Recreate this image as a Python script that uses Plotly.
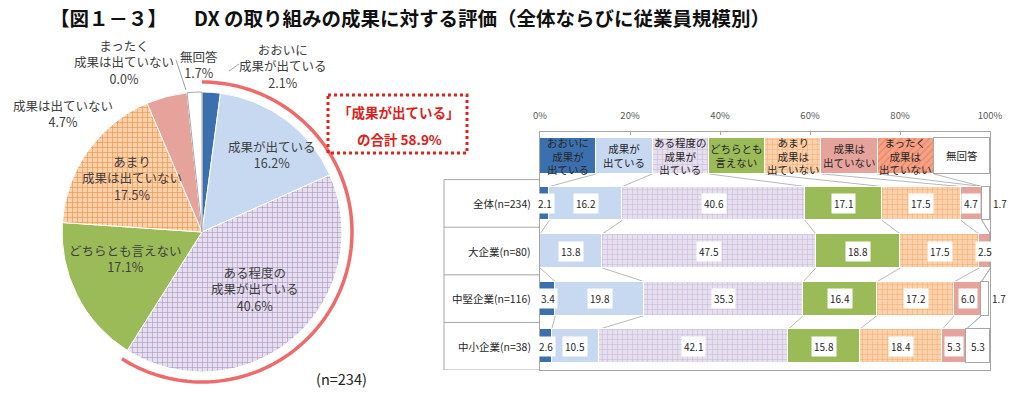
import numpy as np
import plotly.graph_objects as go

W, H = 1024, 393

# ---------------- data ----------------
categories = ["おおいに成果が出ている", "成果が出ている", "ある程度の成果が出ている", "どちらとも言えない",
              "あまり成果は出ていない", "成果は出ていない", "まったく成果は出ていない", "無回答"]
legend_labels = ["おおいに<br>成果が<br>出ている", "成果が<br>出ている", "ある程度の<br>成果が<br>出ている",
                 "どちらとも<br>言えない", "あまり<br>成果は<br>出ていない", "成果は<br>出ていない",
                 "まったく<br>成果は<br>出ていない", "無回答"]
pie_labels = ["おおいに<br>成果が出ている", "成果が出ている", "ある程度の<br>成果が出ている", "どちらとも言えない",
              "あまり<br>成果は出ていない", "成果は出ていない", "まったく<br>成果は出ていない", "無回答"]
pie_values = [2.1, 16.2, 40.6, 17.1, 17.5, 4.7, 0.0, 1.7]

groups = ["全体(n=234)", "大企業(n=80)", "中堅企業(n=116)", "中小企業(n=38)"]
v_zentai = [2.1, 16.2, 40.6, 17.1, 17.5, 4.7, 0.0, 1.7]
v_dai = [0.0, 13.8, 47.5, 18.8, 17.5, 2.5, 0.0, 0.0]
v_chuken = [3.4, 19.8, 35.3, 16.4, 17.2, 6.0, 0.0, 1.7]
v_chusho = [2.6, 10.5, 42.1, 15.8, 18.4, 5.3, 0.0, 5.3]
x_ticks = [0, 20, 40, 60, 80, 100]

title_a = "【図１－３】"
title_b = "DX の取り組みの成果に対する評価（全体ならびに従業員規模別）"
total_label = "「成果が出ている」"
total_prefix = "の合計 "
n_note = "(n=234)"

# ---------------- styles ----------------
FONT = "Noto Sans CJK JP, Noto Sans, sans-serif"
colors = ["#3C6FAE", "#C6D9F1", "#E6E0EE", "#9BBB59", "#FCD2AC", "#E6A39C", "#F4A286", "#FFFFFF"]
pat_shape = ["", "", "+", "", "+", "", "/", ""]
pat_fg = ["#3C6FAE", "#C6D9F1", "#A893C6", "#9BBB59", "#F08A3C", "#E6A39C", "#E5603C", "#FFFFFF"]
edge = ["white"] * 7 + ["#A6A6A6"]
TXT = "#333333"
GRAY = "#A6A6A6"

# plot-area geometry (pixels)
X0, X1 = 540, 990
Y_TOP, Y_BOT = 132, 370


def px(x):
    return x / W


def py(y):
    return 1 - y / H


def xdata_to_px(v):
    return X0 + v / 100 * (X1 - X0)


fig = go.Figure()

# ---------------- pie ----------------
cx, cy, r = 202, 232, 140
fig.add_trace(go.Pie(
    values=pie_values, labels=categories, sort=False, direction="clockwise", rotation=0,
    textinfo="none", textposition="none", hoverinfo="label+value", showlegend=False,
    marker=dict(colors=colors, line=dict(color=edge, width=1),
                pattern=dict(shape=pat_shape, fgcolor=pat_fg, bgcolor=colors, size=5, solidity=0.22)),
    domain=dict(x=[px(cx - r), px(cx + r)], y=[py(cy + r), py(cy - r)]),
))

# ---------------- stacked bars ----------------
rows = [v_zentai, v_dai, v_chuken, v_chusho]
row_y = [3, 2, 1, 0]
LEG_Y = 4
LEG_W, BAR_W = 0.76, 0.71
legend_vals = [100 / len(categories)] * len(categories)

for i, cat in enumerate(categories):
    xs = [legend_vals[i]] + [rw[i] for rw in rows]
    fig.add_trace(go.Bar(
        x=xs, y=[LEG_Y] + row_y, orientation="h", name=cat, showlegend=False,
        width=[LEG_W] + [BAR_W] * len(rows),
        marker=dict(color=colors[i], line=dict(color=edge[i], width=1.2),
                    pattern=dict(shape=pat_shape[i], fgcolor=pat_fg[i], bgcolor=colors[i],
                                 size=5, solidity=0.22)),
        xaxis="x", yaxis="y", hoverinfo="x+name",
    ))

annotations = []
shapes = []


def ann(**kw):
    base = dict(showarrow=False, xanchor="center", yanchor="middle")
    base.update(kw)
    annotations.append(base)


# title
ann(text="<b>" + title_a + "</b>", x=px(48), y=py(17), xref="paper", yref="paper", xanchor="left",
    font=dict(size=19.5, color="#111111", family=FONT))
ann(text="<b>" + title_b + "</b>", x=px(192), y=py(17), xref="paper", yref="paper", xanchor="left",
    font=dict(size=19.5, color="#111111", family=FONT))

# pie labels
pie_pos = [(283, 66), (272, 154), (255, 289), (125, 258), (132, 178), (63, 113), (124, 62), (199, 64)]
for lab, v, (lx, ly) in zip(pie_labels, pie_values, pie_pos):
    ann(text=f"{lab}<br>{v:.1f}%", x=px(lx), y=py(ly), xref="paper", yref="paper", align="center",
        font=dict(size=12.5, color="#404040", family=FONT))

# leader lines
for (x0, y0, x1, y1) in [(239, 64, 229, 71), (176, 60, 186, 90)]:
    shapes.append(dict(type="line", xref="paper", yref="paper", x0=px(x0), y0=py(y0), x1=px(x1), y1=py(y1),
                       line=dict(color="#A0A0A0", width=1)))

# red arc over the "成果が出ている" total
total = sum(pie_values[:3])
frac = total / sum(pie_values)
R = 150
th = np.linspace(0, frac * 2 * np.pi, 120)
pts = [(px(cx + R * np.sin(t)), py(cy - R * np.cos(t))) for t in th]
path = "M " + " L ".join(f"{a:.5f},{b:.5f}" for a, b in pts)
shapes.append(dict(type="path", xref="paper", yref="paper", path=path,
                   line=dict(color="#EF6B6B", width=3.5)))

# dotted red box
shapes.append(dict(type="rect", xref="paper", yref="paper", x0=px(328), x1=px(467), y0=py(95), y1=py(153),
                   line=dict(color="#E3231B", width=3, dash="dot"), fillcolor="rgba(0,0,0,0)"))
ann(text="<b>" + total_label + "</b>", x=px(399), y=py(112), xref="paper", yref="paper",
    font=dict(size=13.5, color="#E0201B", family=FONT))
ann(text=f"<b>{total_prefix}{total:.1f}%</b>", x=px(399), y=py(139), xref="paper", yref="paper",
    font=dict(size=13.5, color="#E0201B", family=FONT))

ann(text=n_note, x=px(341), y=py(378), xref="paper", yref="paper",
    font=dict(size=14.5, color="#222222", family=FONT))

# legend-row texts
for i, lab in enumerate(legend_labels):
    xc = sum(legend_vals[:i]) + legend_vals[i] / 2
    ann(text=lab, x=xc, y=LEG_Y, xref="x", yref="y", align="center",
        font=dict(size=10.5, color="#262626", family=FONT))

# value labels
for vals, yy in zip(rows, row_y):
    cum = np.cumsum(vals)
    for i, v in enumerate(vals):
        if v <= 0:
            continue
        if i == len(vals) - 1 and v < 3:
            # small "no answer" share: label sits just right of the bar end
            ann(text=f"{v:.1f}", x=px(xdata_to_px(cum[i]) + 10), y=yy, xref="paper", yref="y",
                font=dict(size=10, color="#262626", family=FONT))
        else:
            ann(text=f"{v:.1f}", x=cum[i] - v / 2, y=yy, xref="x", yref="y", bgcolor="white", borderpad=2,
                font=dict(size=10, color="#262626", family=FONT))

# row labels
for g, yy in zip(groups, row_y):
    ann(text=g, x=px(533), y=yy, xref="paper", yref="y", xanchor="right",
        font=dict(size=10.5, color="#262626", family=FONT))

# left table lines
for yb in [3.5, 2.5, 1.5, 0.5, -0.5]:
    shapes.append(dict(type="line", xref="paper", yref="y", x0=px(444), x1=px(X0), y0=yb, y1=yb,
                       line=dict(color=GRAY, width=1)))
shapes.append(dict(type="line", xref="paper", yref="y", x0=px(444), x1=px(444), y0=-0.5, y1=3.5,
                   line=dict(color=GRAY, width=1)))

# series lines between rows
all_rows = [(legend_vals, LEG_Y, LEG_W)] + [(rw, yy, BAR_W) for rw, yy in zip(rows, row_y)]
for (ua, uy, uw), (la, ly, lw) in zip(all_rows[:-1], all_rows[1:]):
    cu, cl = np.cumsum(ua), np.cumsum(la)
    for k in range(len(categories) - 1):
        shapes.append(dict(type="line", xref="x", yref="y", x0=cu[k], y0=uy - uw / 2, x1=cl[k], y1=ly + lw / 2,
                           line=dict(color=GRAY, width=0.8), layer="below"))

fig.update_layout(
    width=W, height=H, margin=dict(l=0, r=0, t=0, b=0, autoexpand=False),
    paper_bgcolor="white", plot_bgcolor="white", barmode="stack", bargap=0,
    font=dict(family=FONT, color=TXT),
    xaxis=dict(domain=[px(X0), px(X1)], range=[0, 100], side="top", tickvals=x_ticks,
               ticktext=[f"{t}%" for t in x_ticks], tickfont=dict(size=9.5, color="#595959"),
               showline=True, linecolor=GRAY, mirror=True, ticks="inside", ticklen=3, tickcolor=GRAY,
               showgrid=False, zeroline=False, fixedrange=True, ticklabelstandoff=8, automargin=False),
    yaxis=dict(domain=[py(Y_BOT), py(Y_TOP)], range=[-0.5, 4.5], showticklabels=False, showline=True,
               linecolor=GRAY, mirror=True, showgrid=False, zeroline=False, fixedrange=True, ticks="",
               automargin=False),
    annotations=annotations, shapes=shapes,
)

fig.write_html("out.html", config={"displayModeBar": False},
               post_script="document.body.style.margin='0px';document.body.style.overflow='hidden';")
